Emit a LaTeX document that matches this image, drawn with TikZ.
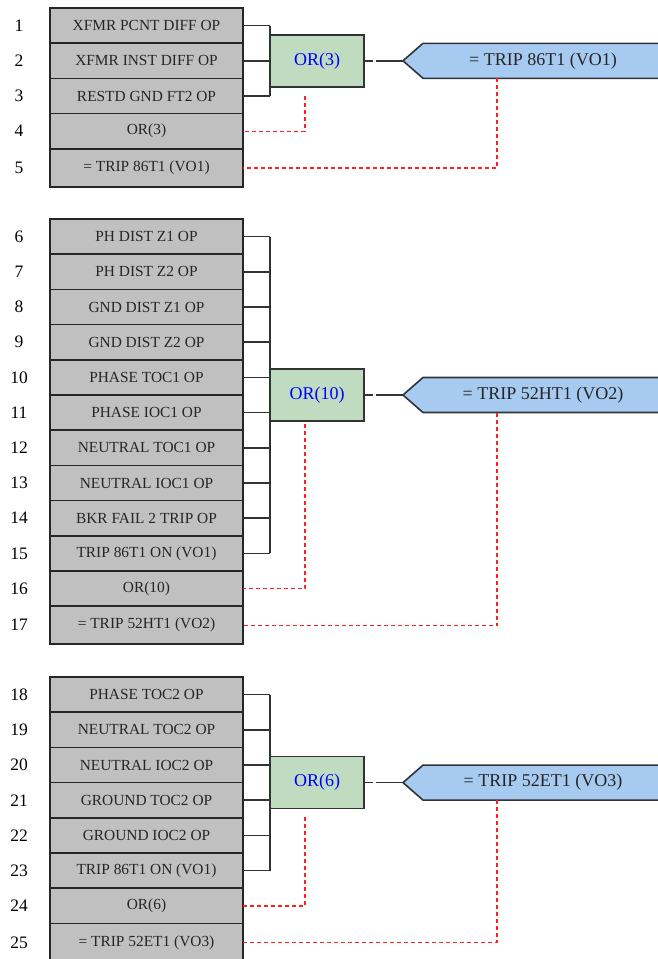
\documentclass[tikz,border=0pt]{standalone}
\usepackage{fontspec}
\setmainfont{Liberation Serif}
\usepackage{tikz}
\usetikzlibrary{positioning,calc}
\usepackage{xcolor}
\definecolor{rowgray}{HTML}{C0C0C0}
\definecolor{orgreen}{HTML}{C0DCC0}
\definecolor{voblue}{HTML}{A6CAF0}
\definecolor{linkred}{HTML}{FF2020}

\begin{document}
\begin{tikzpicture}[x=1pt,y=-1pt,
  rowbox/.style={draw=black!85,line width=1.6pt,fill=rowgray,outer sep=0pt,inner sep=0pt,minimum width=193pt,minimum height=35.2pt,text=black!85,font=\fontsize{15.4}{17}\selectfont},
  lastrow/.style={rowbox,minimum height=38pt},
  num/.style={font=\fontsize{17.5}{19}\selectfont},
  orbox/.style={draw=black!80,line width=1.6pt,fill=orgreen,outer sep=0pt,minimum width=94pt,minimum height=52pt,text=blue,font=\fontsize{18}{20}\selectfont},
  vobox/.style={draw=black!80,line width=1.6pt,fill=voblue},
  votext/.style={text=black!85,font=\fontsize{18}{20}\selectfont},
  wire/.style={black!80,line width=1.6pt},
  link/.style={linkred,line width=1.4pt,dash pattern=on 4pt off 3pt}]
\useasboundingbox (0,0) rectangle (657,959);

% group 1
\node[rowbox] (r1) at (146.5,25.6) {XFMR PCNT DIFF OP};
\foreach \n/\t [remember=\n as \p (initially 1)] in {2/XFMR INST DIFF OP,3/RESTD GND FT2 OP,4/OR(3)}
  \node[rowbox,below=0pt of r\p] (r\n) {\t};
\node[lastrow,below=0pt of r4] (r5) {= TRIP 86T1 (VO1)};
\node[orbox,anchor=west] (or1) at ($(r1.east)!0.5!(r3.east)+(27,0)$) {OR(3)};
\foreach \n in {1,2,3}
  \draw[wire] (r\n.east) -- (r\n.east -| or1.west);
\draw[wire] (r1.east -| or1.west) -- (r3.east -| or1.west);
\coordinate (tip1) at ($(or1.east)+(39,0)$);
\draw[vobox] (tip1) -- ++(20,-17.5) -- ++(270,0) -- ++(0,35) -- ++(-270,0) -- cycle;
\node[votext] (vo1) at ($(tip1)+(140,0)$) {= TRIP 86T1 (VO1)};
\draw[wire,dash pattern=on 9pt off 3pt on 40pt off 1pt] (or1.east) -- (tip1);
\draw[link] ([xshift=-12pt,yshift=-9pt]or1.south) |- (r4.east);
\draw[link] ($(tip1)+(94,17.5)$) |- (r5.east);

% group 2
\node[rowbox] (r6) at (146.5,236.6) {PH DIST Z1 OP};
\foreach \n/\t [remember=\n as \p (initially 6)] in {7/PH DIST Z2 OP,8/GND DIST Z1 OP,9/GND DIST Z2 OP,
    10/PHASE TOC1 OP,11/PHASE IOC1 OP,12/NEUTRAL TOC1 OP,13/NEUTRAL IOC1 OP,
    14/BKR FAIL 2 TRIP OP,15/TRIP 86T1 ON (VO1),16/OR(10)}
  \node[rowbox,below=0pt of r\p] (r\n) {\t};
\node[lastrow,below=0pt of r16] (r17) {= TRIP 52HT1 (VO2)};
\node[orbox,anchor=west] (or2) at ($(r6.east)!0.5!(r15.east)+(27,0)$) {OR(10)};
\foreach \n in {6,...,15}
  \draw[wire] (r\n.east) -- (r\n.east -| or2.west);
\draw[wire] (r6.east -| or2.west) -- (r15.east -| or2.west);
\coordinate (tip2) at ($(or2.east)+(39,0)$);
\draw[vobox] (tip2) -- ++(20,-17.5) -- ++(270,0) -- ++(0,35) -- ++(-270,0) -- cycle;
\node[votext] (vo2) at ($(tip2)+(140,0)$) {= TRIP 52HT1 (VO2)};
\draw[wire,dash pattern=on 9pt off 3pt on 40pt off 1pt] (or2.east) -- (tip2);
\draw[link] ([xshift=-12pt,yshift=-3pt]or2.south) |- (r16.east);
\draw[link] ($(tip2)+(94,17.5)$) |- (r17.east);

% group 3
\node[rowbox] (r18) at (146.5,694.6) {PHASE TOC2 OP};
\foreach \n/\t [remember=\n as \p (initially 18)] in {19/NEUTRAL TOC2 OP,20/NEUTRAL IOC2 OP,
    21/GROUND TOC2 OP,22/GROUND IOC2 OP,23/TRIP 86T1 ON (VO1),24/OR(6)}
  \node[rowbox,below=0pt of r\p] (r\n) {\t};
\node[lastrow,below=0pt of r24] (r25) {= TRIP 52ET1 (VO3)};
\node[orbox,anchor=west] (or3) at ($(r18.east)!0.5!(r23.east)+(27,0)$) {OR(6)};
\foreach \n in {18,...,23}
  \draw[wire] (r\n.east) -- (r\n.east -| or3.west);
\draw[wire] (r18.east -| or3.west) -- (r23.east -| or3.west);
\coordinate (tip3) at ($(or3.east)+(39,0)$);
\draw[vobox] (tip3) -- ++(20,-17.5) -- ++(270,0) -- ++(0,35) -- ++(-270,0) -- cycle;
\node[votext] (vo3) at ($(tip3)+(140,0)$) {= TRIP 52ET1 (VO3)};
\draw[wire,dash pattern=on 9pt off 3pt on 40pt off 1pt] (or3.east) -- (tip3);
\draw[link] ([xshift=-12pt,yshift=-8pt]or3.south) |- (r24.east);
\draw[link] ($(tip3)+(94,17.5)$) |- (r25.east);

\foreach \n in {1,...,25}
  \node[num] (n\n) at ($(r\n.west)+(-31,0)$) {\n};
\end{tikzpicture}
\end{document}
